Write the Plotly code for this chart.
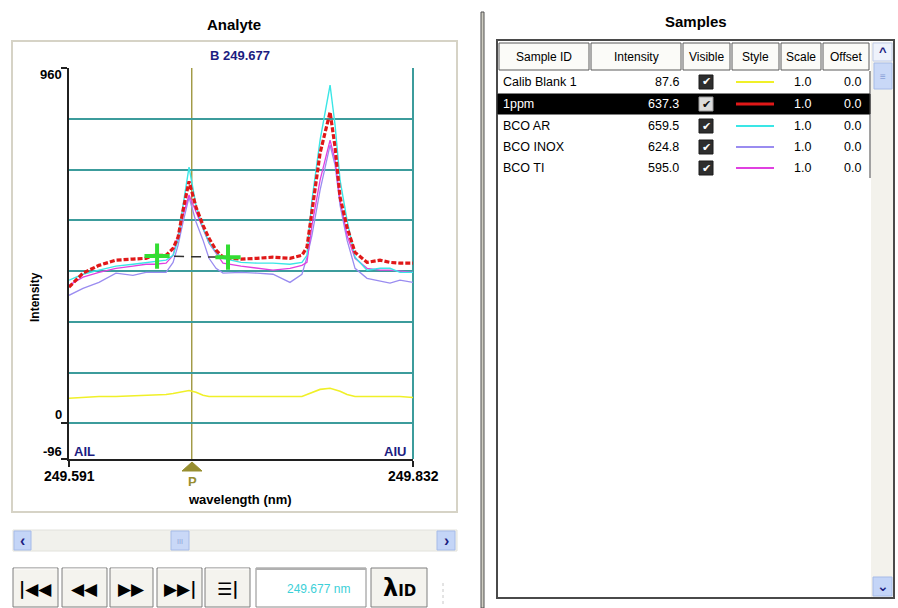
import plotly.graph_objects as go

# ---------------- data ----------------
wavelength = [249.5910, 249.6008, 249.6120, 249.6239, 249.6358, 249.6449, 249.6506, 249.6590,
              249.6639, 249.6674, 249.6709, 249.6751, 249.6800, 249.6849, 249.6891, 249.6940,
              249.6989, 249.7115, 249.7227, 249.7339, 249.7458, 249.7542, 249.7577, 249.7612,
              249.7669, 249.7739, 249.7774, 249.7809, 249.7858, 249.7914, 249.7998, 249.8089,
              249.8159, 249.8229, 249.8320]

calib_blank_1 = [68, 70, 73, 73, 74, 76, 76, 78, 81, 84, 87, 89, 84, 76, 73, 73, 73, 73, 73, 73,
                 73, 73, 78, 84, 92, 95, 92, 87, 78, 73, 73, 73, 73, 73, 70]
ppm_1 = [368, 406, 427, 441, 444, 446, 454, 454, 473, 503, 576, 654, 584, 535, 500, 468, 449, 444,
         446, 449, 446, 454, 476, 576, 730, 841, 746, 611, 530, 462, 435, 441, 435, 433, 433]
bco_ar = [387, 403, 414, 425, 430, 435, 438, 441, 454, 495, 589, 692, 589, 527, 489, 462, 446, 435,
          433, 433, 430, 435, 454, 603, 765, 914, 806, 657, 549, 449, 414, 419, 419, 408, 408]
bco_inox = [346, 365, 381, 406, 400, 408, 408, 408, 435, 481, 544, 611, 544, 495, 446, 419, 406, 408,
            406, 403, 381, 403, 449, 508, 630, 752, 698, 589, 495, 419, 392, 384, 379, 387, 381]
bco_ti = [373, 395, 408, 419, 425, 430, 430, 433, 454, 508, 562, 617, 571, 530, 487, 460, 433, 425,
          419, 414, 419, 427, 435, 535, 657, 765, 711, 603, 508, 446, 419, 414, 414, 411, 408]

background_wl = [249.6527, 249.7024]
background_int = [452, 449]

analyte_name = "B 249.677"
analyte_wl = 249.677
y_min, y_max = -96, 960
x_min, x_max = 249.591, 249.832
y_tick_vals = [-96, 0, 960]
y_tick_text = ["-96", "0", "960"]
x_tick_vals = [249.591, 249.832]
x_tick_text = ["249.591", "249.832"]
grid_vals = [0, 137.14, 274.29, 411.43, 548.57, 685.71, 822.86, 960]

sample_ids = ["Calib Blank 1", "1ppm", "BCO AR", "BCO INOX", "BCO TI"]
sample_intensity = [87.6, 637.3, 659.5, 624.8, 595.0]
sample_scale = [1.0, 1.0, 1.0, 1.0, 1.0]
sample_offset = [0.0, 0.0, 0.0, 0.0, 0.0]
table_headers = ["Sample ID", "Intensity", "Visible", "Style", "Scale", "Offset"]
selected_row = 1

# ---------------- styles ----------------
FONT = "Liberation Sans"
YELLOW = "#f0f028"
RED = "#e01818"
CYAN = "#3ae6e6"
LAVENDER = "#9a8cf0"
MAGENTA = "#e040e0"
TEAL = "#3c9c9c"
OLIVE = "#978e30"
NAVY = "#1c1c80"
sample_colors = [YELLOW, RED, CYAN, LAVENDER, MAGENTA]
series_data = [calib_blank_1, ppm_1, bco_ar, bco_inox, bco_ti]

W, H = 898, 608
L, R, T, B = 69, 413, 68, 459


def px(x):
    return (x - L) / (R - L)


def py(y):
    return (B - y) / (B - T)


shapes = []
annotations = []


def rect(x0, y0, x1, y1, fill="rgba(0,0,0,0)", line="rgba(0,0,0,0)", width=1, layer="above"):
    shapes.append(dict(type="rect", xref="paper", yref="paper", x0=px(x0), x1=px(x1),
                       y0=py(y0), y1=py(y1), fillcolor=fill,
                       line=dict(color=line, width=width), layer=layer))


def seg(x0, y0, x1, y1, color="black", width=1, dash="solid", layer="above"):
    shapes.append(dict(type="line", xref="paper", yref="paper", x0=px(x0), x1=px(x1),
                       y0=py(y0), y1=py(y1), line=dict(color=color, width=width, dash=dash),
                       layer=layer))


def text(x, y, s, size=12, color="black", bold=False, xanchor="center", angle=0, family=FONT):
    annotations.append(dict(xref="paper", yref="paper", x=px(x), y=py(y), text=s,
                            showarrow=False, xanchor=xanchor, yanchor="middle",
                            textangle=angle, borderpad=0,
                            font=dict(family=family, size=size, color=color,
                                      weight="bold" if bold else "normal")))


fig = go.Figure()

# spectra (drawing order so red is on top)
order = [0, 3, 4, 2, 1]
for i in order:
    line = dict(color=sample_colors[i], width=1.3)
    if i == 1:
        line = dict(color=RED, width=3.2, dash="5px,2px")
    elif i == 0:
        line = dict(color=YELLOW, width=1.6)
    elif i == 2:
        line = dict(color=CYAN, width=1.4)
    fig.add_trace(go.Scatter(x=wavelength, y=series_data[i], mode="lines", line=line,
                             name=sample_ids[i], hoverinfo="skip"))

# background correction line and points
fig.add_trace(go.Scatter(x=background_wl, y=background_int, mode="lines",
                         line=dict(color="#303030", width=1.5, dash="10px,7px"), hoverinfo="skip"))
fig.add_trace(go.Scatter(x=background_wl, y=background_int, mode="markers",
                         marker=dict(symbol="cross-thin", size=18,
                                     line=dict(color="#33dd33", width=4)), hoverinfo="skip"))

# analyte vertical line
shapes.append(dict(type="line", xref="x", yref="paper", x0=analyte_wl, x1=analyte_wl,
                   y0=0, y1=1, line=dict(color=OLIVE, width=1.3), layer="below"))
# right border of plot
seg(R, T, R, B, color=TEAL, width=2, layer="below")

# ---------------- left panel chrome ----------------
rect(12, 41, 457, 512, line="#d6d3c6", width=2, layer="below")
text(234, 24, "Analyte", size=15, bold=True)
text(240, 56, analyte_name, size=13, color=NAVY, bold=True)
text(84, 451, "AIL", size=13, color=NAVY, bold=True)
text(395, 451, "AIU", size=13, color=NAVY, bold=True)
text(35, 297, "Intensity", size=12, bold=True, angle=-90)
text(63, 75, y_tick_text[2], size=13, bold=True, xanchor="right")
text(63, 414, y_tick_text[1], size=13, bold=True, xanchor="right")
text(63, 451, y_tick_text[0], size=13, bold=True, xanchor="right")
text(69, 476, x_tick_text[0], size=14, bold=True)
text(413, 476, x_tick_text[1], size=14, bold=True)
text(240, 500, "wavelength (nm)", size=13, bold=True)
# P marker
shapes.append(dict(type="path", xref="paper", yref="paper",
                   path="M {} {} L {} {} L {} {} Z".format(px(182), py(471), px(202), py(471),
                                                          px(192), py(462)),
                   fillcolor=OLIVE, line=dict(color=OLIVE, width=1)))
text(192, 481, "P", size=13, color=OLIVE, bold=True)

# scrollbar
rect(13, 530, 457, 551, fill="#f1f1ec", line="#e2e2dc", width=1)
rect(14, 531, 31, 550, fill="#c4d5f7", line="#a6bbe8")
text(22.5, 540, "‹", size=16, color=NAVY, bold=True)
rect(171, 531, 189, 550, fill="#c9d8f7", line="#a6bbe8")
text(180, 541, "III", size=7, color="#8aa0d8")
rect(437, 531, 455, 550, fill="#c4d5f7", line="#a6bbe8")
text(446, 540, "›", size=16, color=NAVY, bold=True)

# buttons
buttons = [(13, 58, "|◀◀"), (62, 107, "◀◀"), (110, 153, "▶▶"), (157, 202, "▶▶|"), (205, 250, "☰|")]
for x0, x1, lab in buttons:
    rect(x0, 568, x1, 607, fill="#f4f3ee", line="#7f7f7f", width=1)
    seg(x0 + 1, 569, x1 - 1, 569, color="white", width=1)
    text((x0 + x1) / 2, 589, lab, size=17, bold=True, family="DejaVu Sans")
rect(256, 568, 366, 607, fill="white", line="#8a8a8a", width=1)
seg(256, 569, 366, 569, color="#b0b0b0", width=2)
text(318, 589, "249.677 nm", size=12, color="#3cd0d8")
rect(371, 568, 427, 607, fill="#f4f3ee", line="#7f7f7f", width=1)
text(399, 588, "<span style='font-size:24px'>λ</span>ID", size=15, bold=True, family="DejaVu Sans")
seg(443, 583, 443, 606, color="#c8c8c8", width=1, dash="dot")

# separator
rect(481, 12, 484, 608, fill="#cfcdc2", line="#505050", width=1)

# ---------------- right table ----------------
text(696, 22, "Samples", size=15, bold=True)
rect(497, 40, 894, 598, fill="white", line="#4a4a4a", width=2)
# scrollbar track
rect(871, 42, 893, 597, fill="#f3f2ec", line="#f3f2ec", width=0)
rect(873, 43, 892, 61, fill="#eef2fb", line="#bfcbe8")
text(882.5, 51, "^", size=13, color=NAVY, bold=True)
rect(874, 63, 892, 89, fill="#c9d8f7", line="#a6bbe8")
text(883, 76, "≡", size=10, color="#8aa0d8")
rect(873, 577, 892, 596, fill="#c4d5f7", line="#a6bbe8")
text(882.5, 586, "⌄", size=14, color=NAVY, bold=True, family="DejaVu Sans")

header_bounds = [(499, 589), (591, 681), (683, 730), (732, 779), (781, 821), (823, 869)]
for (x0, x1), h in zip(header_bounds, table_headers):
    rect(x0, 43, x1, 70, fill="#fbfbf8", line="#5a5a5a", width=1)
    text((x0 + x1) / 2, 57, h, size=12)

row_y = [82, 104, 126, 147, 168]
rect(498, 94, 870, 114, fill="black", line="black")
seg(870, 71, 870, 178, color="#444444", width=1)
for i, sid in enumerate(sample_ids):
    y = row_y[i]
    sel = (i == selected_row)
    fg = "white" if sel else "black"
    text(502, y, sid, size=12.5, color=fg, xanchor="left")
    text(680, y, "{:.1f}".format(sample_intensity[i]), size=12.5, color=fg, xanchor="right")
    rect(699, y - 7, 713, y + 7, fill="#dcdcdc" if sel else "#2e2e2e",
         line="#9a9a9a" if sel else "#1a1a1a")
    text(706, y, "✔", size=11, color="#111111" if sel else "white", family="DejaVu Sans")
    seg(736, y, 774, y, color=sample_colors[i], width=3 if sel else 2)
    text(812, y, "{:.1f}".format(sample_scale[i]), size=12.5, color=fg, xanchor="right")
    text(862, y, "{:.1f}".format(sample_offset[i]), size=12.5, color=fg, xanchor="right")

# ---------------- layout ----------------
fig.update_layout(
    width=W, height=H, autosize=False,
    margin=dict(l=L, r=W - R, t=T, b=H - B, pad=0),
    paper_bgcolor="white", plot_bgcolor="white",
    showlegend=False,
    shapes=shapes, annotations=annotations,
    font=dict(family=FONT, size=12, color="black"),
    xaxis=dict(range=[x_min, x_max], showgrid=False, zeroline=False,
               showline=True, linecolor="#202020", linewidth=2,
               tickvals=x_tick_vals, ticktext=["", ""], ticks="outside",
               ticklen=6, tickcolor="#202020", tickwidth=2, fixedrange=True),
    yaxis=dict(range=[y_min, y_max], showgrid=False, zeroline=False,
               showline=True, linecolor="#202020", linewidth=2,
               tickvals=y_tick_vals, ticktext=["", "", ""], ticks="outside",
               ticklen=6, tickcolor="#202020", tickwidth=1.5, fixedrange=True,
               minor=dict(tickvals=grid_vals, showgrid=True, gridcolor=TEAL,
                          gridwidth=2, ticks="")),
)

fig.write_html("out.html", config={"displayModeBar": False},
               post_script="document.body.style.margin='0';")
